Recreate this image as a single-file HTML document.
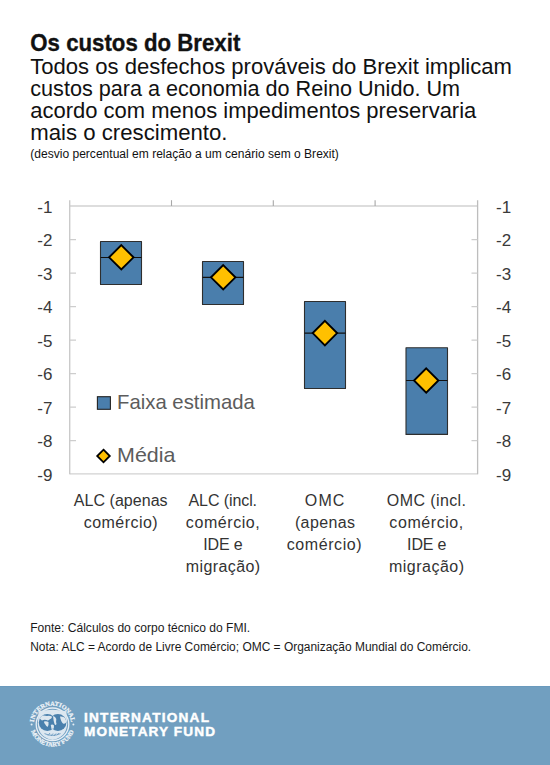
<!DOCTYPE html>
<html lang="pt">
<head>
<meta charset="utf-8">
<title>Os custos do Brexit</title>
<style>
html,body{margin:0;padding:0;background:#fff;}
body{width:550px;height:765px;overflow:hidden;position:relative;font-family:"Liberation Sans",sans-serif;}
svg{position:absolute;left:0;top:0;display:block;}
.footer{position:absolute;left:0;top:686px;width:550px;height:79px;background:#719fc0;border-top:1px solid #6a9abd;box-sizing:border-box;}
</style>
</head>
<body>
<div class="footer"></div>
<svg width="550" height="765" viewBox="0 0 550 765" font-family="Liberation Sans, sans-serif">
  <!-- Heading -->
  <g fill="#111">
    <text x="30.3" y="50.6" font-size="24" font-weight="bold" stroke="#111" stroke-width="0.35" textLength="210" lengthAdjust="spacingAndGlyphs">Os custos do Brexit</text>
    <text x="30.3" y="73.8" font-size="22.7" textLength="481.6" lengthAdjust="spacingAndGlyphs">Todos os desfechos prováveis do Brexit implicam</text>
    <text x="30.3" y="95.8" font-size="22.7" textLength="429.7" lengthAdjust="spacingAndGlyphs">custos para a economia do Reino Unido. Um</text>
    <text x="30.3" y="117.8" font-size="22.7" textLength="446" lengthAdjust="spacingAndGlyphs">acordo com menos impedimentos preservaria</text>
    <text x="30.3" y="139.8" font-size="22.7" textLength="197.2" lengthAdjust="spacingAndGlyphs">mais o crescimento.</text>
    <text x="30.3" y="157.7" font-size="12" textLength="308.6" lengthAdjust="spacingAndGlyphs">(desvio percentual em relação a um cenário sem o Brexit)</text>
  </g>

  <!-- Chart frame -->
  <g stroke="#d2d2d2" stroke-width="1.4" fill="none">
    <line x1="69.7" y1="206" x2="477.6" y2="206"/>
    <line x1="69.7" y1="473.9" x2="477.6" y2="473.9"/>
  </g>
  <g stroke="#cacaca" stroke-width="1.4" fill="none">
    <line x1="69.7" y1="200.2" x2="69.7" y2="474.3"/>
  </g>
  <g stroke="#bdbdbd" stroke-width="1.3" fill="none">
    <line x1="477.6" y1="200.2" x2="477.6" y2="474.3"/>
  </g>
  <!-- top ticks -->
  <g stroke="#a8a8a8" stroke-width="1.1">
    <line x1="171.5" y1="200.2" x2="171.5" y2="206"/>
    <line x1="273.3" y1="200.2" x2="273.3" y2="206"/>
    <line x1="375.1" y1="200.2" x2="375.1" y2="206"/>
  </g>
  <!-- y ticks -->
  <g stroke="#cdcdcd" stroke-width="1.3">
    <path d="M70 239.7h6M70 273.2h6M70 306.7h6M70 340.2h6M70 373.7h6M70 407.2h6M70 440.7h6"/>
    <path d="M471.5 239.7h6M471.5 273.2h6M471.5 306.7h6M471.5 340.2h6M471.5 373.7h6M471.5 407.2h6M471.5 440.7h6"/>
  </g>

  <!-- y labels -->
  <g fill="#3a3a3a" font-size="17" text-anchor="end">
    <text x="52.4" y="212.9">-1</text>
    <text x="52.4" y="246.3">-2</text>
    <text x="52.4" y="279.8">-3</text>
    <text x="52.4" y="313.2">-4</text>
    <text x="52.4" y="346.7">-5</text>
    <text x="52.4" y="380.1">-6</text>
    <text x="52.4" y="413.6">-7</text>
    <text x="52.4" y="447.1">-8</text>
    <text x="52.4" y="480.5">-9</text>
  </g>
  <g fill="#3a3a3a" font-size="17" text-anchor="end">
    <text x="511.2" y="212.9">-1</text>
    <text x="511.2" y="246.3">-2</text>
    <text x="511.2" y="279.8">-3</text>
    <text x="511.2" y="313.2">-4</text>
    <text x="511.2" y="346.7">-5</text>
    <text x="511.2" y="380.1">-6</text>
    <text x="511.2" y="413.6">-7</text>
    <text x="511.2" y="447.1">-8</text>
    <text x="511.2" y="480.5">-9</text>
  </g>

  <!-- boxes -->
  <g fill="#4a7eac" stroke="#2e2e2e" stroke-width="1.1" stroke-linejoin="round">
    <rect x="100.5" y="241.5" width="41" height="43"/>
    <rect x="202.5" y="261.5" width="41" height="43"/>
    <rect x="304.5" y="301.5" width="41" height="87"/>
    <rect x="406" y="347.8" width="41.5" height="86.6"/>
  </g>
  <g stroke="#111" stroke-width="1.2">
    <line x1="100.5" y1="257.5" x2="141.5" y2="257.5"/>
    <line x1="202.5" y1="277.3" x2="243.5" y2="277.3"/>
    <line x1="304.5" y1="333.2" x2="345.5" y2="333.2"/>
    <line x1="406" y1="380.5" x2="447.5" y2="380.5"/>
  </g>
  <g fill="#ffc000" stroke="#000" stroke-width="1.9" stroke-linejoin="miter">
    <path d="M121.3 245.1L133.5 257.3L121.3 269.5L109.1 257.3Z"/>
    <path d="M223.2 265.1L235.4 277.3L223.2 289.5L211.0 277.3Z"/>
    <path d="M324.9 320.9L337.1 333.1L324.9 345.3L312.7 333.1Z"/>
    <path d="M426.2 368.3L438.4 380.5L426.2 392.7L414.0 380.5Z"/>
  </g>

  <!-- legend -->
  <rect x="97.4" y="396.7" width="13" height="12.6" fill="#4a7eac" stroke="#222" stroke-width="1.1"/>
  <path d="M103.5 449.7L109.8 456L103.5 462.3L97.2 456Z" fill="#ffc000" stroke="#000" stroke-width="1.8"/>
  <g fill="#5c5c5c" font-size="21">
    <text x="117" y="409.4" textLength="137.8" lengthAdjust="spacingAndGlyphs">Faixa estimada</text>
    <text x="117" y="461.7" textLength="58.5" lengthAdjust="spacingAndGlyphs">Média</text>
  </g>

  <!-- category labels -->
  <g fill="#333" font-size="16" text-anchor="middle">
    <text x="120.7" y="505.6" textLength="93.8" lengthAdjust="spacing">ALC (apenas</text>
    <text x="120.7" y="527.8" textLength="73.8" lengthAdjust="spacing">comércio)</text>
    <text x="222.8" y="505.6" textLength="68.5" lengthAdjust="spacing">ALC (incl.</text>
    <text x="222.8" y="527.8" textLength="73.9" lengthAdjust="spacing">comércio,</text>
    <text x="223.0" y="550.2" textLength="39.4" lengthAdjust="spacing">IDE e</text>
    <text x="222.9" y="572.2" textLength="74.4" lengthAdjust="spacing">migração)</text>
    <text x="324.6" y="505.6" textLength="39.6" lengthAdjust="spacing">OMC</text>
    <text x="325.0" y="527.8" textLength="60.2" lengthAdjust="spacing">(apenas</text>
    <text x="324.2" y="550.2" textLength="74.8" lengthAdjust="spacing">comércio)</text>
    <text x="426.4" y="505.6" textLength="79.2" lengthAdjust="spacing">OMC (incl.</text>
    <text x="426.3" y="527.8" textLength="73.9" lengthAdjust="spacing">comércio,</text>
    <text x="426.8" y="550.2" textLength="39.4" lengthAdjust="spacing">IDE e</text>
    <text x="426.5" y="572.2" textLength="75.2" lengthAdjust="spacing">migração)</text>
  </g>

  <!-- notes -->
  <g fill="#1a1a1a" font-size="12">
    <text x="30.2" y="631.7" textLength="220" lengthAdjust="spacingAndGlyphs">Fonte: Cálculos do corpo técnico do FMI.</text>
    <text x="30.2" y="650.8" textLength="441" lengthAdjust="spacingAndGlyphs">Nota: ALC = Acordo de Livre Comércio; OMC = Organização Mundial do Comércio.</text>
  </g>


  <!-- IMF seal -->
  <defs>
    <path id="arcTop" d="M33.8 724.3A18.7 18.7 0 0 1 71.2 724.3"/>
    <path id="arcBot" d="M30.3 724.3A22.2 22.2 0 0 0 74.7 724.3"/>
    <clipPath id="glob"><circle cx="47.3" cy="722.4" r="8.5"/><circle cx="57.9" cy="722.4" r="8.5"/></clipPath>
  </defs>
  <g fill="#eef3f8" stroke="#eef3f8" stroke-width="0.25" font-family="Liberation Serif, serif" font-weight="bold" font-size="6.2">
    <text text-anchor="middle"><textPath href="#arcTop" startOffset="50%" textLength="54" lengthAdjust="spacingAndGlyphs">INTERNATIONAL</textPath></text>
    <text text-anchor="middle"><textPath href="#arcBot" startOffset="50%" textLength="56" lengthAdjust="spacingAndGlyphs">MONETARY FUND</textPath></text>
  </g>
  <circle cx="31.6" cy="724.6" r="1" fill="#e6eef4"/>
  <circle cx="73.4" cy="724.6" r="1" fill="#e6eef4"/>
  <circle cx="52.5" cy="724.3" r="16.3" fill="none" stroke="#e6eef5" stroke-width="1.3"/>
  <path d="M38.6 711.2Q52.5 708.2 66.4 711.2L67.2 724Q66.2 737.5 52.5 740Q38.8 737.5 37.8 724Z" fill="#dce7f0"/>
  <g fill="#4a80ad">
    <circle cx="47.3" cy="722.4" r="8.5"/>
    <circle cx="57.9" cy="722.4" r="8.5"/>
  </g>
  <g fill="#dde7ef" clip-path="url(#glob)">
    <path d="M39 716.5Q43 714.8 47 716Q50 715.5 52.2 716.8Q51.5 719 49.5 719.5Q48 721 46.5 720Q44 719.3 42 720.5Q40 719.5 39 716.5Z"/>
    <path d="M44 721.5Q46.5 720.8 48.5 722Q49 724.5 47.5 727Q46 726 45 724Q44 723 44 721.5Z"/>
    <path d="M50.8 725Q52.5 724 54 725.5L53.8 728.5L51.5 729Z"/>
    <path d="M53 716Q55.5 716.5 56.3 719Q55.8 721.5 56.5 724Q55.5 726 54.5 724Q53.5 721 53 716Z"/>
    <path d="M60 716.5Q63.5 716 65.5 718.5L66.5 722Q65 724.5 63 723.5Q61 722 60 716.5Z"/>
  </g>
  <g stroke="#6b9ac0" stroke-width="0.9" fill="none">
    <path d="M44.5 733.6Q52.5 737.2 60.5 733.6"/>
    <path d="M48 735.5l2-2.5M51 736l2-2.5M54 736l2-2.5M57 735l1.8-2"/>
  </g>

  <!-- footer logo text -->
  <g fill="#fff" stroke="#fff" stroke-width="0.45" font-size="13.6" font-weight="bold">
    <text x="84" y="721.8" textLength="125" lengthAdjust="spacing">INTERNATIONAL</text>
    <text x="84" y="735.6" textLength="131" lengthAdjust="spacing">MONETARY FUND</text>
  </g>
</svg>
</body>
</html>
